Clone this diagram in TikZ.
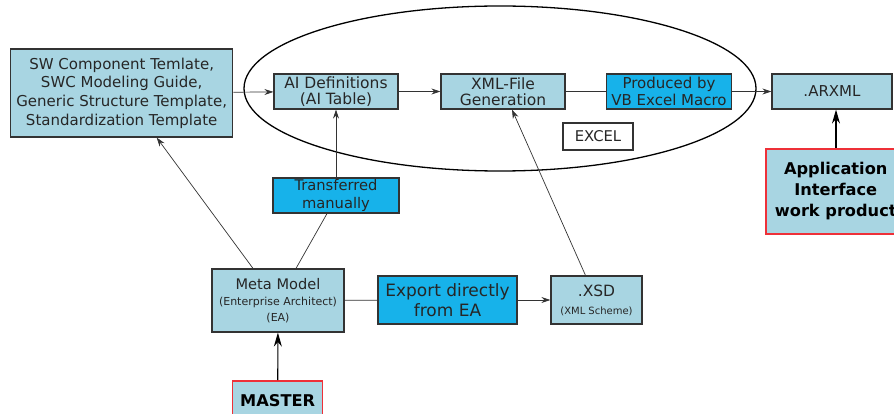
\documentclass[tikz,border=0pt]{standalone}
\usepackage{fontspec}
\setmainfont{DejaVu Sans}
\usetikzlibrary{shapes.geometric,arrows.meta}
\definecolor{lb}{HTML}{A8D5E2}
\definecolor{bb}{HTML}{17B2EA}
\definecolor{bd}{HTML}{333333}
\definecolor{rb}{HTML}{EE3038}
\begin{document}
\begin{tikzpicture}[x=1pt,y=-1pt,
  box/.style={draw=bd,line width=1.2pt,fill=lb,inner sep=0pt,align=center,font=\fontsize{15}{18}\selectfont,text=black!85},
  bbox/.style={box,fill=bb},
  rbox/.style={box,draw=rb,line width=1.5pt,font=\fontsize{16.2}{21}\selectfont\bfseries,text=black},
  con/.style={draw=black!80,line width=0.7pt},
  arr/.style={con,-{Stealth[length=9pt,width=6pt]}},
  bigarr/.style={draw=black,line width=1.1pt,-{Stealth[length=14pt,width=8pt]}}]
\useasboundingbox (0,0) rectangle (894,414);
\begin{scope}
\clip (0,0) rectangle (894,414);
\node[ellipse,draw=black,line width=1.3pt,minimum width=512pt,minimum height=165pt,inner sep=0pt] (ell) at (500,88.5) {};
\node[box,minimum width=222pt,minimum height=88pt,font=\fontsize{15}{18.7}\selectfont] (tmpl) at (121.7,93) {SW Component Temlate,\\SWC Modeling Guide,\\Generic Structure Template,\\Standardization Template};
\node[box,minimum width=124pt,minimum height=35pt,font=\fontsize{15.5}{16.5}\selectfont] (aidef) at (336,91.5) {AI Definitions\\(AI Table)};
\node[box,minimum width=124pt,minimum height=35pt,font=\fontsize{15.5}{16.5}\selectfont] (xmlgen) at (503,91.5) {XML-File\\Generation};
\node[bbox,minimum width=125pt,minimum height=35pt,font=\fontsize{15}{16.5}\selectfont] (vb) at (669,91.5) {Produced by\\VB Excel Macro};
\node[box,fill=white,minimum width=70pt,minimum height=27pt,font=\fontsize{14.8}{16}\selectfont] (excel) at (598,136.5) {EXCEL};
\node[box,minimum width=120pt,minimum height=35pt,font=\fontsize{15}{16}\selectfont] (arxml) at (832,91.5) {.ARXML};
\node[rbox,minimum width=140pt,minimum height=85pt,anchor=west] (appif) at (765,191.5) {Application\\Interface\\work product};
\node[bbox,minimum width=126pt,minimum height=35pt,font=\fontsize{14.7}{17.5}\selectfont] (trans) at (336,195.5) {Transferred\\manually};
\node[box,minimum width=132pt,minimum height=63pt,font=\fontsize{14.6}{17}\selectfont] (meta) at (278,300.5) {Meta Model\\[-1pt]{\fontsize{11}{17}\selectfont(Enterprise Architect)}\\[-1pt]{\fontsize{11}{16}\selectfont(EA)}};
\node[bbox,minimum width=139pt,minimum height=48pt,font=\fontsize{17}{20.5}\selectfont] (export) at (447.5,300) {Export directly\\from EA};
\node[box,minimum width=91pt,minimum height=48pt,font=\fontsize{15.5}{18}\selectfont] (xsd) at (596.5,300) {.XSD\\{\fontsize{10}{12}\selectfont(XML Scheme)}};
\node[rbox,minimum width=90pt,minimum height=40pt,anchor=north] (master) at (277.7,380) {MASTER};
\end{scope}
\draw[arr] (tmpl) -- (aidef);
\draw[arr] (aidef) -- (xmlgen);
\draw[con] (xmlgen) -- (vb);
\draw[arr] (vb) -- (arxml);
\draw[bigarr] ([xshift=4pt]arxml.south |- appif.north) -- ([xshift=4pt]arxml.south);
\draw[bigarr] (master) -- (meta);
\draw[arr] ([xshift=-25pt]meta.north) -- ([xshift=35pt]tmpl.south);
\draw[con] ([xshift=18pt]meta.north) -- ([xshift=-9pt]trans.south);
\draw[arr] (trans) -- (aidef);
\draw[con] (meta) -- (export);
\draw[arr] (export) -- (xsd);
\draw[arr] ([xshift=-11pt]xsd.north) -- ([xshift=9pt]xmlgen.south);
\end{tikzpicture}
\end{document}
